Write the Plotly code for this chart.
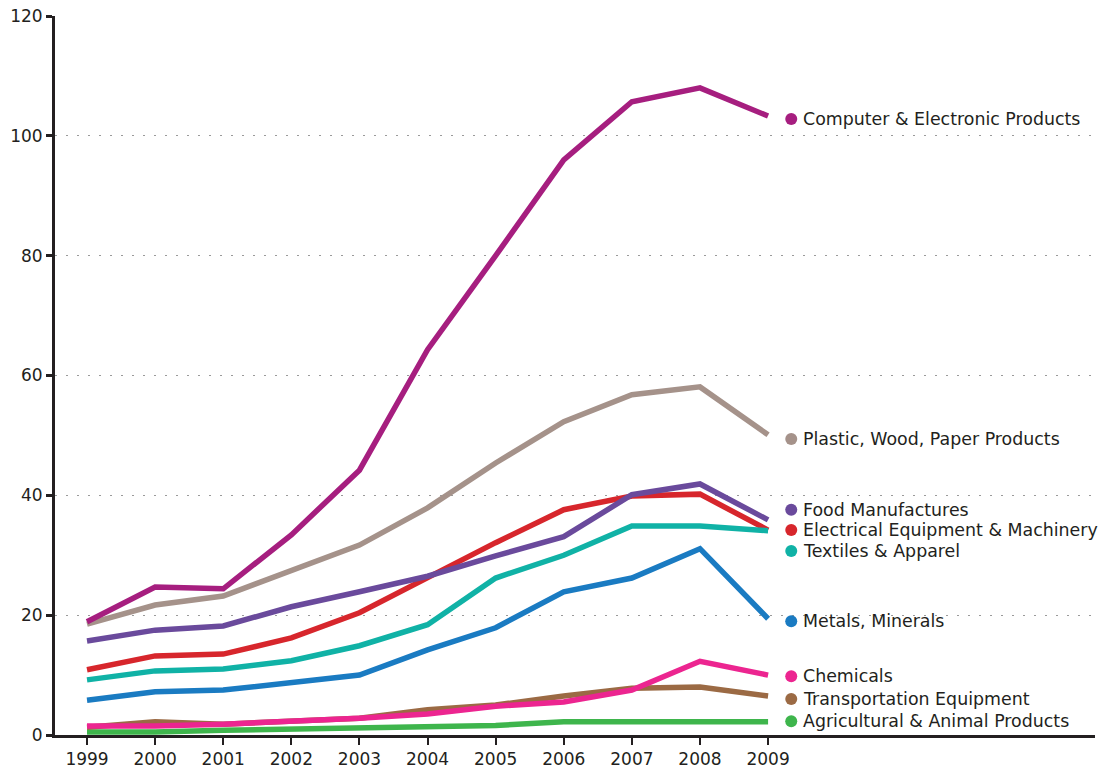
import plotly.graph_objects as go

years = [1999, 2000, 2001, 2002, 2003, 2004, 2005, 2006, 2007, 2008, 2009]

computer = [18.9, 24.7, 24.4, 33.4, 44.2, 64.3, 80.0, 96.0, 105.7, 108.0, 103.3]
plastic = [18.5, 21.7, 23.2, 27.5, 31.7, 37.9, 45.4, 52.3, 56.8, 58.1, 50.1]
food = [15.7, 17.5, 18.2, 21.4, 23.9, 26.5, 29.9, 33.1, 40.1, 41.9, 35.9]
electrical = [10.9, 13.2, 13.5, 16.2, 20.4, 26.2, 32.1, 37.6, 39.9, 40.2, 34.2]
textiles = [9.2, 10.7, 11.0, 12.4, 14.9, 18.4, 26.2, 30.0, 34.9, 34.9, 34.1]
metals = [5.8, 7.2, 7.5, 8.7, 10.0, 14.2, 17.9, 23.9, 26.2, 31.1, 19.4]
chemicals = [1.5, 1.5, 1.8, 2.2, 2.8, 3.5, 4.8, 5.5, 7.5, 12.3, 10.0]
transport = [1.3, 2.2, 1.8, 2.2, 2.8, 4.2, 5.0, 6.5, 7.8, 8.0, 6.5]
agri = [0.5, 0.5, 0.8, 1.0, 1.3, 1.3, 1.6, 2.2, 2.2, 2.2, 2.2]

series_names = [
    "Agricultural & Animal Products",
    "Transportation Equipment",
    "Chemicals",
    "Metals, Minerals",
    "Electrical Equipment & Machinery",
    "Textiles & Apparel",
    "Food Manufactures",
    "Plastic, Wood, Paper Products",
    "Computer & Electronic Products",
]
series_values = [agri, transport, chemicals, metals, electrical, textiles, food, plastic, computer]
series_colors = ["#3EB54C", "#9B6A44", "#EC2590", "#1A7BC2", "#D7262C",
                 "#10B2A6", "#6A4A9C", "#A5928A", "#A61E7F"]
# vertical position of each end label (data units)
label_y = [2.3, 6.0, 9.8, 19.0, 34.2, 30.7, 37.6, 49.4, 102.8]
label_x = 2009.34

ytick_vals = [0, 20, 40, 60, 80, 100, 120]

FONT = "DejaVu Sans, sans-serif"

fig = go.Figure()
for name, vals, col in zip(series_names, series_values, series_colors):
    fig.add_trace(go.Scatter(x=years, y=vals, mode="lines", name=name,
                             line=dict(color=col, width=5.5), showlegend=False,
                             hoverinfo="skip"))

fig.add_trace(go.Scatter(x=[label_x] * len(label_y), y=label_y, mode="markers",
                         marker=dict(color=series_colors, size=12),
                         showlegend=False, hoverinfo="skip", cliponaxis=False))

for name, ly in zip(series_names, label_y):
    fig.add_annotation(x=label_x, y=ly, xref="x", yref="y", text=name,
                       showarrow=False, xanchor="left", yanchor="middle",
                       xshift=10, font=dict(family=FONT, size=17.4, color="#231F20"))

fig.update_layout(
    width=1112, height=769,
    margin=dict(l=55, r=17, t=16, b=34),
    paper_bgcolor="white", plot_bgcolor="white",
    font=dict(family=FONT, size=17, color="#231F20"),
    xaxis=dict(range=[1998.53, 2013.8], tickvals=years, ticktext=[str(y) for y in years],
               showgrid=False, zeroline=False, showline=True, linecolor="#231F20",
               linewidth=3, ticks="outside", ticklen=7, tickwidth=2, tickcolor="#231F20",
               tickfont=dict(family=FONT, size=17, color="#231F20"), automargin=False),
    yaxis=dict(range=[0, 120], tickvals=ytick_vals, showgrid=True,
               gridcolor="#9A9A9A", griddash="2px,9px", gridwidth=1.2,
               zeroline=False, showline=True, linecolor="#231F20", linewidth=3,
               ticks="outside", ticklen=6, tickwidth=2.5, tickcolor="#231F20",
               tickfont=dict(family=FONT, size=17, color="#231F20"), automargin=False),
)

fig.write_html("out.html", post_script="document.body.style.margin='0';",
               config={"displayModeBar": False})
